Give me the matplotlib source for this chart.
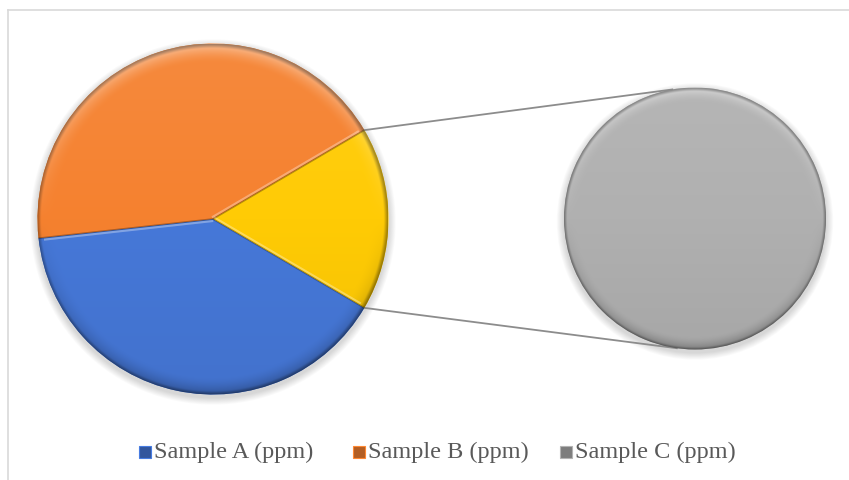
import numpy as np
import matplotlib
matplotlib.use("Agg")
import matplotlib.pyplot as plt
from matplotlib.patches import Rectangle, Circle
from matplotlib.colors import to_rgb

# ---- data ----
categories = ["Sample A (ppm)", "Sample B (ppm)", "Sample C (ppm)"]
values = [39.8, 43.3, 16.9]          # A, B, C (C is split into the secondary pie)
main_colors = ["#4678D8", "#F5812F", "#FFCB05"]
second_color = "#B0B0B0"
legend_colors = ["#3E6CC4", "#E0762C", "#9C9C9C"]

W, H = 849, 481
fig = plt.figure(figsize=(W / 100, H / 100), dpi=100)
ax = fig.add_axes([0, 0, 1, 1])


def py(y):
    return H - y


main_c = (213, py(220))
main_r = 175.5
sec_c = (695, py(219.5))
sec_r = 131


def shadow(center, r):
    cx, cy = center
    for k in range(8, 0, -1):
        ax.add_patch(Circle((cx, cy - 3), r + k * 0.9, color="black",
                            alpha=0.018, lw=0, zorder=1))


def shade(wedge, center, r, n=500):
    cx, cy = center
    base = np.array(to_rgb(wedge.get_facecolor()[:3]))
    lin = np.linspace(-1, 1, n)
    u, v = np.meshgrid(lin, lin)
    d = np.sqrt(u ** 2 + v ** 2)
    col = np.ones((n, n, 3)) * base
    # overall vertical gradient
    g = np.where(v > 0, 0.07 * v, 0.05 * v)
    col = np.where(g[..., None] > 0, col + (1 - col) * g[..., None],
                   col * (1 + g[..., None]))
    # rim bevel
    rim = np.clip((d - 0.9) / 0.1, 0, 1) ** 1.5
    light = rim * np.clip(v, 0, 1) * 0.45
    dark = rim * np.clip(-v, 0, 1) * 0.28
    col = col + (1 - col) * light[..., None]
    col = col * (1 - dark[..., None])
    edge = np.clip((d - 0.978) / 0.022, 0, 1) * 0.35
    col = col * (1 - edge[..., None])
    img = np.clip(col, 0, 1)
    im = ax.imshow(img, extent=[cx - r, cx + r, cy - r, cy + r],
                   origin="lower", zorder=3, interpolation="bilinear")
    im.set_clip_path(wedge)


# ---- main pie ----
total = sum(values)
start = -180 * values[2] / total
shadow(main_c, main_r)
wedges, _ = ax.pie(values, colors=main_colors, startangle=start,
                   counterclock=False, center=main_c, radius=main_r,
                   wedgeprops=dict(linewidth=0, zorder=2))
for w in wedges:
    shade(w, main_c, main_r)
# slice boundary bevel lines
for w in wedges:
    for ang in (w.theta1, w.theta2):
        a = np.deg2rad(ang)
        ax.plot([main_c[0], main_c[0] + main_r * np.cos(a)],
                [main_c[1], main_c[1] + main_r * np.sin(a)],
                color="black", alpha=0.15, lw=1.2, zorder=4,
                solid_capstyle="butt")
        off = 2.0
        ax.plot([main_c[0] + off * np.cos(a + np.pi / 2),
                 main_c[0] + main_r * 0.97 * np.cos(a) + off * np.cos(a + np.pi / 2)],
                [main_c[1] + off * np.sin(a + np.pi / 2),
                 main_c[1] + main_r * 0.97 * np.sin(a) + off * np.sin(a + np.pi / 2)],
                color="white", alpha=0.18, lw=1.5, zorder=4,
                solid_capstyle="butt")

# ---- secondary pie ----
shadow(sec_c, sec_r)
sw, _ = ax.pie([values[2]], colors=[second_color], startangle=90,
               counterclock=False, center=sec_c, radius=sec_r,
               wedgeprops=dict(linewidth=0, zorder=2))
for w in sw:
    shade(w, sec_c, sec_r)

# ---- connector lines ----
other = wedges[2]
for ang_main, ang_sec in ((other.theta2, 100), (other.theta1, 262)):
    a = np.deg2rad(ang_main)
    b = np.deg2rad(ang_sec)
    ax.plot([main_c[0] + main_r * np.cos(a), sec_c[0] + sec_r * np.cos(b)],
            [main_c[1] + main_r * np.sin(a), sec_c[1] + sec_r * np.sin(b)],
            color="#8c8c8c", lw=1.3, zorder=2.5)

# ---- frame ----
ax.plot([8, 8], [py(11), 0], color="#d9d9d9", lw=1.2, zorder=1)
ax.plot([8, W], [py(11), py(11)], color="#d9d9d9", lw=1.2, zorder=1)

# ---- legend ----
legend_x = [139, 353, 560]
ly = py(453)
for x, lab, c in zip(legend_x, categories, legend_colors):
    base = np.array(to_rgb(c))
    ax.add_patch(Rectangle((x, ly - 6), 12, 12, facecolor=base * 0.8,
                           edgecolor=np.clip(base * 1.15, 0, 1), lw=0.8, zorder=5))
    ax.text(x + 15, ly + 0.5, lab, fontsize=17.5, family=["Liberation Serif"],
            color="#595959", va="center", ha="left", zorder=5)

ax.set_xlim(0, W)
ax.set_ylim(0, H)
ax.set_aspect("auto")
ax.axis("off")
fig.savefig("out.png", dpi=100)
